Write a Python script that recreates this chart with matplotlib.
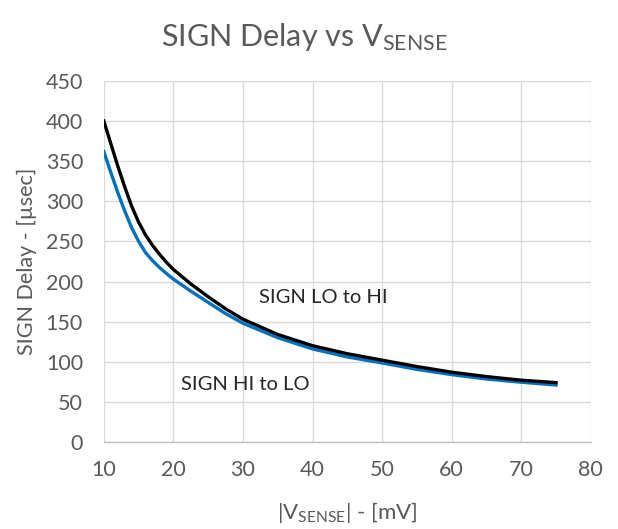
import matplotlib
matplotlib.use("Agg")
import matplotlib.pyplot as plt

# Data
vsense = [10, 11, 12, 13, 14, 15, 16, 17, 18, 19, 20, 22.5, 25, 27.5, 30, 35, 40, 45, 50, 55, 60, 65, 70, 75]
lo_to_hi = [400, 372, 344, 318, 294, 274, 258, 245, 234, 224, 215, 197, 181, 166, 153, 134, 120, 110, 102, 94, 87, 81.5, 77, 74]
hi_to_lo = [362, 336, 311, 288, 267, 250, 236, 226, 217.5, 210, 203, 188, 174, 160, 148, 130, 116, 106, 98.5, 90.5, 84, 78.5, 74.5, 71]

x_ticks = [10, 20, 30, 40, 50, 60, 70, 80]
y_ticks = [0, 50, 100, 150, 200, 250, 300, 350, 400, 450]

font = "Lato"
plt.rcParams['font.family'] = [font, 'DejaVu Sans']
plt.rcParams['mathtext.fontset'] = 'custom'
plt.rcParams['mathtext.rm'] = font
plt.rcParams['mathtext.it'] = font
plt.rcParams['mathtext.bf'] = font

text_color = "#595959"

fig = plt.figure(figsize=(6.18, 5.29), dpi=100)
ax = fig.add_axes([0.168, 0.1645, 0.788, 0.6825])

ax.plot(vsense, hi_to_lo, color="#0070c0", lw=2.4, solid_joinstyle="round", zorder=3)
ax.plot(vsense, lo_to_hi, color="black", lw=2.4, solid_joinstyle="round", zorder=4)

ax.set_xlim(10, 80)
ax.set_ylim(0, 450)
ax.set_xticks(x_ticks)
ax.set_yticks(y_ticks)
ax.grid(True, color="#d9d9d9", lw=1.0)
ax.set_axisbelow(True)
for s in ["top", "right", "left"]:
    ax.spines[s].set_visible(False)
ax.spines["bottom"].set_color("#bfbfbf")
ax.spines["bottom"].set_linewidth(1.0)
ax.tick_params(axis="both", length=0, labelsize=15.5, labelcolor=text_color)
ax.tick_params(axis="x", pad=13)
ax.tick_params(axis="y", pad=15)

ax.set_xlabel(r"|$\mathrm{V}_{\mathrm{SENSE}}$| - [mV]", fontsize=16, color=text_color, va="center")
ax.set_ylabel("SIGN Delay - [µsec]", fontsize=15.5, color=text_color, va="center", ha="center")
ax.xaxis.set_label_coords(0.5, -0.195)
ax.yaxis.set_label_coords(-0.158, 0.5)

fig.text(0.493, 0.93, r"SIGN Delay vs $\mathrm{V}_{\mathrm{SENSE}}$", ha="center", va="center",
         fontsize=22, color=text_color)

ax.text(32.3, 180, "SIGN LO to HI", fontsize=14.5, color="#262626", va="center", ha="left")
ax.text(21.1, 72, "SIGN HI to LO", fontsize=14.5, color="#262626", va="center", ha="left")

fig.savefig("out.png", dpi=100)
